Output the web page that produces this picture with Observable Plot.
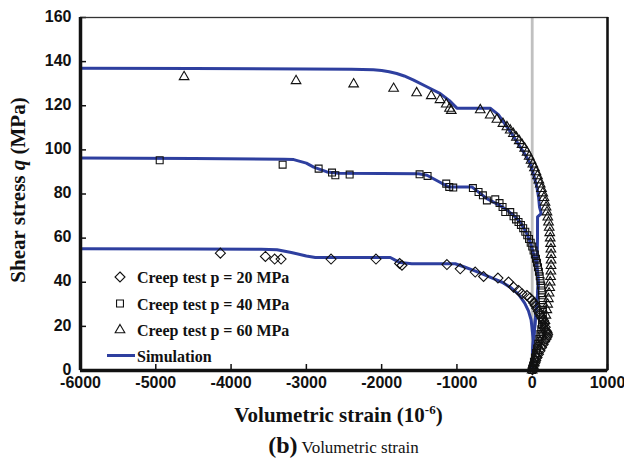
<!DOCTYPE html>
<html><head><meta charset="utf-8">
<script src="https://cdn.jsdelivr.net/npm/d3@7"></script>
<script src="https://cdn.jsdelivr.net/npm/@observablehq/plot@0.6"></script>
<style>
body{margin:0;background:#fff;}
#wrap{position:relative;width:624px;height:459px;overflow:hidden;}
#caption{width:527px;padding-left:80px;height:27px;line-height:27px;text-align:center;font-family:"Liberation Serif","Times New Roman",serif;color:#111;white-space:nowrap;}
#caption b{font-size:24px;}
#caption span{font-size:17px;}
</style></head><body><div id="wrap"></div>
<script>
const xTicks = [-6000, -5000, -4000, -3000, -2000, -1000, 0, 1000];
const yTicks = [0, 20, 40, 60, 80, 100, 120, 140, 160];
const legendLabels = ["Creep test p = 20 MPa", "Creep test p = 40 MPa", "Creep test p = 60 MPa", "Simulation"];

// Simulation curves
const sim20X = [-6000, -4500, -3600, -3389, -3200, -3000, -2881, -2400, -1885, -1820, -1752, -1600, -1300, -1022, -900, -779, -640, -514, -400, -281, -180, -100, -50, -15, -4, 10, 18, 15, 8, 0];
const sim20Y = [55.2, 55.1, 55.0, 54.7, 53.5, 51.9, 51.2, 51.2, 51.2, 50.0, 48.9, 48.4, 48.4, 48.4, 46.9, 45.4, 43.5, 41.6, 40.0, 37.5, 34.5, 30.5, 27.0, 23.0, 19.7, 15.0, 10.6, 6.0, 3.0, 0];
const sim40X = [-6000, -4500, -3300, -3168, -3000, -2903, -2726, -2571, -2000, -1509, -1398, -1250, -1111, -950, -801, -700, -602, -450, -330, -248, -159, -71, -20, 18, 45, 62, 75, 80, 72, 55, 40, 25, 9, 3, 0];
const sim40Y = [96.3, 96.1, 95.8, 95.6, 94.0, 92.2, 90.0, 89.4, 89.3, 89.2, 88.5, 85.8, 83.2, 83.2, 83.2, 80.5, 77.9, 75.2, 72.6, 70.3, 67.3, 62.0, 57.5, 52.9, 49.5, 46.9, 43.0, 39.0, 34.8, 28.5, 22.7, 16.5, 10.6, 5.0, 0];
const sim60X = [-6000, -4500, -3000, -2400, -2110, -2000, -1900, -1800, -1700, -1575, -1400, -1221, -1100, -1000, -558, -450, -336, -250, -159, -90, -27, 20, 62, 85, 97, 110, 119, 71, 70, 66, 62, 75, 80, 72, 55, 40, 25, 9, 3, 0];
const sim60Y = [137.0, 136.9, 136.7, 136.6, 136.3, 136.0, 135.4, 134.6, 133.5, 131.6, 128.6, 125.5, 122.3, 118.9, 118.9, 116.0, 110.4, 106.2, 101.3, 97.7, 93.8, 88.5, 83.2, 78.5, 74.1, 72.5, 71.1, 69.6, 60.0, 52.0, 46.9, 43.0, 39.0, 34.8, 28.5, 22.7, 16.5, 10.6, 5.0, 0];

// Creep tests
const test20X = [-4142, -3544, -3421, -3336, -2672, -2075, -1762, -1730, -1133, -956, -757, -646, -455, -314, -248, -182, -137, -71, -30, -4, 20, 40, 60, 80, 97, 115, 133, 150, 163, 173, 182, 190, 200, 205, 198, 185, 165, 145, 124, 103, 83, 64, 47, 32, 20, 10, 3];
const test20Y = [53.2, 51.7, 50.5, 50.5, 50.5, 50.5, 48.5, 47.7, 48.0, 46.1, 44.6, 42.6, 41.9, 40.1, 37.8, 36.3, 34.8, 34.0, 32.9, 31.8, 30.6, 29.5, 28.2, 26.9, 25.7, 24.6, 23.6, 22.7, 21.2, 19.6, 18.1, 17.6, 17.0, 16.2, 15.3, 14.3, 13.1, 11.8, 10.4, 8.9, 7.4, 5.9, 4.5, 3.2, 2.1, 1.1, 0.4];
const test40X = [-4948, -3315, -2837, -2659, -2615, -2425, -1496, -1390, -1142, -1102, -1049, -788, -713, -655, -602, -491, -434, -394, -358, -292, -248, -215, -182, -150, -120, -92, -66, -42, -20, 0, 18, 35, 50, 64, 77, 89, 100, 110, 119, 127, 133, 138, 141, 142, 141, 137, 130, 120, 108, 95, 80, 65, 50, 36, 23, 12, 4, 0];
const test40Y = [95.3, 93.3, 91.5, 89.7, 88.5, 88.8, 88.9, 88.2, 84.7, 83.2, 82.9, 82.7, 80.9, 79.4, 77.1, 77.6, 75.9, 74.1, 71.8, 71.8, 69.9, 68.5, 67.3, 66.0, 64.5, 62.9, 61.3, 59.6, 57.9, 56.2, 54.4, 52.6, 50.7, 48.8, 46.8, 44.8, 42.7, 40.6, 38.5, 36.3, 34.1, 31.9, 29.7, 27.5, 25.3, 23.1, 20.9, 18.7, 16.5, 14.3, 12.1, 10.0, 7.9, 5.9, 4.0, 2.3, 1.0, 0.2];
const test60X = [-4624, -3137, -2372, -1841, -1535, -1341, -1225, -1142, -1098, -1075, -690, -558, -469, -389, -336, -292, -250, -210, -172, -135, -100, -68, -40, -15, 8, 30, 50, 70, 88, 106, 123, 140, 156, 170, 184, 196, 207, 217, 226, 233, 239, 244, 248, 250, 251, 250, 248, 244, 239, 232, 224, 215, 205, 194, 182, 168, 153, 137, 120, 103, 86, 70, 54, 40, 27, 15, 6, 0];
const test60Y = [133.1, 131.3, 129.8, 127.8, 125.8, 124.5, 122.7, 120.7, 118.8, 117.8, 118.1, 115.7, 113.8, 111.9, 110.4, 108.9, 107.3, 105.7, 104.1, 102.4, 100.7, 98.9, 97.0, 95.2, 93.5, 91.8, 90.0, 88.2, 86.3, 84.4, 82.4, 80.4, 78.3, 76.2, 74.0, 71.8, 69.5, 67.2, 64.8, 62.4, 60.0, 57.5, 55.0, 52.5, 50.0, 47.5, 45.0, 42.5, 40.0, 37.5, 35.0, 32.5, 30.0, 27.5, 25.0, 22.6, 20.2, 17.8, 15.5, 13.2, 11.0, 8.9, 6.9, 5.0, 3.4, 2.0, 0.8, 0.1];

const zip = (xs, ys, s) => xs.map((x, i) => ({x, y: ys[i], s}));
const simRows = [...zip(sim20X, sim20Y, "20"), ...zip(sim40X, sim40Y, "40"), ...zip(sim60X, sim60Y, "60")];
const t20 = zip(test20X, test20Y, "20");
const t40 = zip(test40X, test40Y, "40");
const t60 = zip(test60X, test60Y, "60");

const W = 624, H = 432, mT = 17, mB = 62, mL = 80, mR = 17;
const pw = W - mL - mR, ph = H - mT - mB;
const BLUE = "#2e3f9f", INK = "#111";
const dotOpts = {x: "x", y: "y", r: 4.5, stroke: INK, strokeWidth: 1.1, fill: "none"};

const plot = Plot.plot({
  width: W, height: H, marginTop: mT, marginBottom: mB, marginLeft: mL, marginRight: mR,
  style: {fontFamily: "'Liberation Sans', Arial, sans-serif", background: "#fff", color: INK, overflow: "visible"},
  x: {domain: [-6000, 1000], label: null},
  y: {domain: [0, 160], label: null},
  marks: [
    Plot.ruleX([0], {stroke: "#c0c0c0", strokeWidth: 2.8}),
    Plot.line(simRows, {x: "x", y: "y", z: "s", stroke: BLUE, strokeWidth: 3, curve: "linear"}),
    Plot.dot(t20, {...dotOpts, symbol: "diamond2"}),
    Plot.dot(t40, {...dotOpts, symbol: "square2", r: 4.4}),
    Plot.dot(t60, {...dotOpts, symbol: "triangle2", r: 4.6}),
    Plot.tickX(xTicks, {x: d => d, insetTop: ph - 6, stroke: INK, strokeWidth: 1.5}),
    Plot.tickY(yTicks, {y: d => d, insetRight: pw - 6, stroke: INK, strokeWidth: 1.5}),
    Plot.frame({stroke: "#333", strokeWidth: 1.3}),
    Plot.ruleX([1000], {stroke: INK, strokeWidth: 2.5}),
    Plot.ruleX([-6000], {stroke: INK, strokeWidth: 3.5}),
    Plot.ruleY([0], {stroke: INK, strokeWidth: 3.5}),
    Plot.axisX({ticks: xTicks, tickSize: 0, tickPadding: 6, fontSize: 16, fontWeight: "bold", tickFormat: d => String(d), label: null}),
    Plot.axisY({ticks: yTicks, tickSize: 0, tickPadding: 9, dy: -1, fontSize: 16, fontWeight: "bold", tickFormat: d => String(d), label: null})
  ]
});

const svg = d3.select(plot);
const serif = "'Liberation Serif', 'Times New Roman', serif";

// X title
const xt = svg.append("text").attr("x", mL + pw / 2 - 5).attr("y", 422)
  .attr("text-anchor", "middle").attr("font-family", serif).attr("font-weight", "bold")
  .attr("font-size", 21).attr("fill", INK);
xt.append("tspan").text("Volumetric strain (10");
xt.append("tspan").attr("font-size", 13).attr("dy", -8).text("-6");
xt.append("tspan").attr("dy", 8).text(")");

// Y title
const yt = svg.append("text").attr("transform", `translate(25,${190}) rotate(-90)`)
  .attr("text-anchor", "middle").attr("font-family", serif).attr("font-weight", "bold")
  .attr("font-size", 21).attr("fill", INK);
yt.append("tspan").text("Shear stress ");
yt.append("tspan").attr("font-style", "italic").text("q");
yt.append("tspan").text(" (MPa)");

// Legend
const lg = svg.append("g").attr("font-family", serif).attr("font-weight", "bold")
  .attr("font-size", 16).attr("fill", INK).attr("text-anchor", "start");
const rowsY = [277, 303.5, 330, 355.5];
const syms = [d3.symbolDiamond2, d3.symbolSquare2, d3.symbolTriangle2];
const rs = [4.5, 4.4, 4.6];
legendLabels.forEach((lab, i) => {
  const y = rowsY[i];
  if (i < 3) {
    lg.append("path").attr("transform", `translate(120,${y})`)
      .attr("d", d3.symbol(syms[i], Math.PI * rs[i] * rs[i])())
      .attr("fill", "none").attr("stroke", INK).attr("stroke-width", 1.1);
  } else {
    lg.append("line").attr("x1", 107).attr("x2", 135).attr("y1", y).attr("y2", y)
      .attr("stroke", BLUE).attr("stroke-width", 3);
  }
  lg.append("text").attr("x", 137).attr("y", y + 6).attr("text-anchor", "start").text(lab);
});

const wrap = document.getElementById("wrap");
wrap.appendChild(plot);
const cap = document.createElement("div");
cap.id = "caption";
cap.innerHTML = "<b>(b)</b> <span>Volumetric strain</span>";
wrap.appendChild(cap);
</script>
</body></html>
